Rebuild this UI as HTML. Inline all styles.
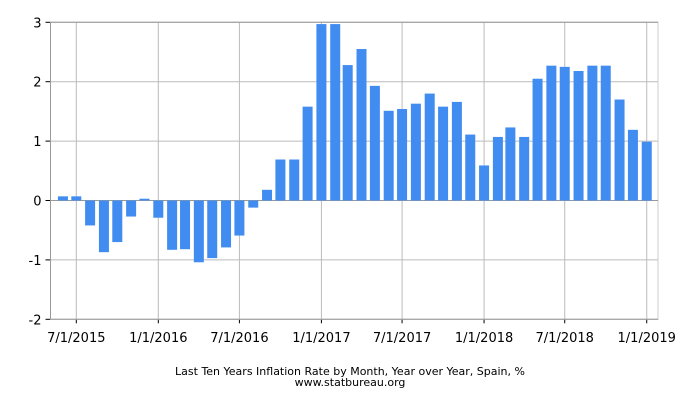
<!DOCTYPE html>
<html><head><meta charset="utf-8"><style>
body{margin:0;background:#fff;font-family:"DejaVu Sans","Liberation Sans",sans-serif}
svg{display:block}
</style></head><body>
<svg id="c" width="700" height="400"></svg>
<script>
const months = ["2015-06","2015-07","2015-08","2015-09","2015-10","2015-11","2015-12",
"2016-01","2016-02","2016-03","2016-04","2016-05","2016-06","2016-07","2016-08","2016-09","2016-10","2016-11","2016-12",
"2017-01","2017-02","2017-03","2017-04","2017-05","2017-06","2017-07","2017-08","2017-09","2017-10","2017-11","2017-12",
"2018-01","2018-02","2018-03","2018-04","2018-05","2018-06","2018-07","2018-08","2018-09","2018-10","2018-11","2018-12","2019-01"];
const values = [0.07,0.07,-0.42,-0.87,-0.70,-0.27,0.03,
-0.29,-0.83,-0.82,-1.04,-0.97,-0.79,-0.59,-0.12,0.18,0.69,0.69,1.58,
2.97,2.97,2.28,2.55,1.93,1.51,1.54,1.63,1.80,1.58,1.66,1.11,
0.59,1.07,1.23,1.07,2.05,2.27,2.25,2.18,2.27,2.27,1.70,1.19,0.99];
const yTicks = [-2,-1,0,1,2,3];
const xTickDates = ["2015-07","2016-01","2016-07","2017-01","2017-07","2018-01","2018-07","2019-01"];
const xTickLabels = ["7/1/2015","1/1/2016","7/1/2016","1/1/2017","7/1/2017","1/1/2018","7/1/2018","1/1/2019"];

const svg=document.getElementById('c');const NS='http://www.w3.org/2000/svg';
const L=50.5,R=658,T=22.3,B=319.3;
const t0=Date.UTC(2015,6,1),t1=Date.UTC(2016,0,1);
const xPx=(158.3-76.3)/((t1-t0)/864e5);
function ms(s){const [y,m]=s.split('-').map(Number);return Date.UTC(y,m-1,1);}
const x=s=>76.3+(ms(s)-t0)/864e5*xPx;
const y=v=>B-(v+2)/5*(B-T);
function el(tag,a){const e=document.createElementNS(NS,tag);for(const k in a)e.setAttribute(k,a[k]);svg.appendChild(e);return e;}
// grid
yTicks.forEach(v=>{const g=el('line',{x1:L,x2:R,y1:y(v),y2:y(v),stroke:'#bbb','stroke-width':1});


const tk=el('line',{x1:L-5,x2:L,y1:y(v),y2:y(v),stroke:'#000'});


const tx=el('text',{x:L-9,y:y(v)+5,'text-anchor':'end','font-size':13,fill:'#000'});tx.textContent=v;

});
xTickDates.forEach((d,i)=>{const xx=x(d);const g=el('line',{x1:xx,x2:xx,y1:T,y2:B,stroke:'#bbb'});


const tk=el('line',{x1:xx,x2:xx,y1:B,y2:B+4,stroke:'#000'});


const tx=el('text',{x:xx,y:342,'text-anchor':'middle','font-size':13,fill:'#000'});tx.textContent=xTickLabels[i];

});
const fr=el('rect',{x:L,y:T,width:R-L,height:B-T,fill:'none',stroke:'#ccc'});


el('line',{x1:L,x2:R,y1:T,y2:T,stroke:'#999'});
el('line',{x1:L,x2:L,y1:T,y2:B,stroke:'#999'});
el('line',{x1:L,x2:R,y1:B,y2:B,stroke:'#999'});
el('line',{x1:L,x2:R,y1:y(0),y2:y(0),stroke:'#999'});
months.forEach((m,i)=>{const v=values[i];const xx=x(m);const y0=y(0),yv=y(v);
const b=el('rect',{x:xx-5,y:Math.min(y0,yv),width:10,height:Math.max(Math.abs(yv-y0),0.5),fill:'#418cf0'});

});
const t1e=el('text',{x:350,y:375,'text-anchor':'middle','font-size':11,fill:'#000'});t1e.textContent='Last Ten Years Inflation Rate by Month, Year over Year, Spain, %';


const t2e=el('text',{x:350,y:386,'text-anchor':'middle','font-size':11,fill:'#000'});t2e.textContent='www.statbureau.org';


</script>
</body></html>
